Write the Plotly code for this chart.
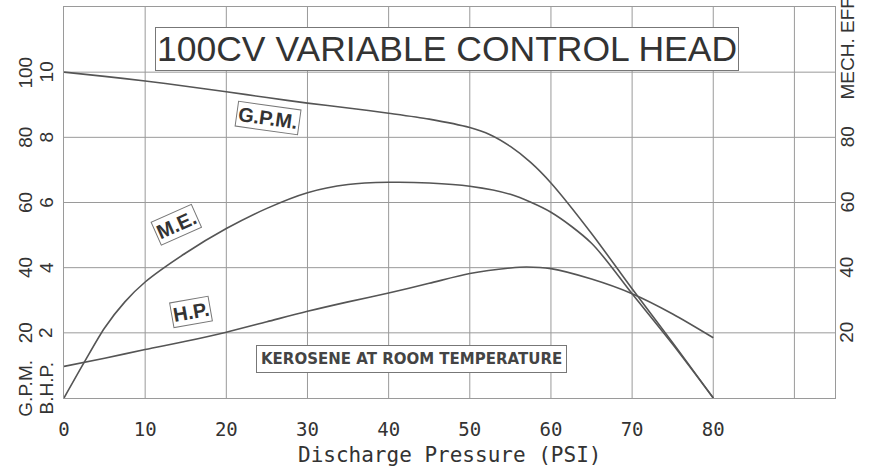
import plotly.graph_objects as go

# ---- data (y in chart units 0-12; G.P.M. & M.E. = value/10, B.H.P. = value) ----
pressure = [0, 5, 10, 15, 20, 25, 30, 35, 40, 45, 50, 52.5, 55, 57.5, 60, 65, 70, 75, 80]
gpm = [100, 98.7, 97.3, 95.7, 94.0, 92.2, 90.5, 89.0, 87.4, 85.6, 83.0, 80.8, 77.2, 72.3, 66.0, 50.5, 33.5, 17, 0]

me_pressure = [0, 2.5, 5, 7.5, 10, 15, 20, 25, 30, 35, 40, 45, 50, 55, 60, 65, 70, 75, 80]
mech_eff = [0, 11, 21.5, 29.5, 35.6, 44.5, 52, 58.2, 63, 65.5, 66.2, 66, 65, 62.5, 57, 47.5, 32, 16.5, 0]

hp_pressure = [0, 5, 10, 15, 20, 25, 30, 35, 40, 45, 50, 55, 57, 60, 65, 70, 75, 80]
bhp = [0.97, 1.22, 1.49, 1.74, 2.02, 2.34, 2.66, 2.95, 3.22, 3.52, 3.82, 3.99, 4.02, 3.97, 3.65, 3.2, 2.58, 1.85]

x_ticks = [0, 10, 20, 30, 40, 50, 60, 70, 80]
gpm_ticks = [20, 40, 60, 80, 100]
bhp_ticks = [2, 4, 6, 8, 10]
eff_ticks = [20, 40, 60, 80]

LINE = "#555555"
GRID = "#9a9a9a"
TXT = "#333333"

fig = go.Figure()
for xs, ys in [(pressure, [v / 10 for v in gpm]),
               (me_pressure, [v / 10 for v in mech_eff]),
               (hp_pressure, bhp)]:
    fig.add_trace(go.Scatter(x=xs, y=ys, mode="lines",
                             line=dict(color=LINE, width=1.6, shape="spline", smoothing=0.8),
                             showlegend=False, hoverinfo="skip"))

LAB = dict(family="Liberation Sans", size=19, color=TXT)
C = dict(showarrow=False, xanchor="center", yanchor="middle", textangle=-90)
ann = []
# left double tick columns
for g, b in zip(gpm_ticks, bhp_ticks):
    ann.append(dict(text=str(g), x=-0.05, xref="paper", y=b, yref="y", font=LAB, **C))
    ann.append(dict(text=str(b), x=-0.023, xref="paper", y=b, yref="y", font=LAB, **C))
ann.append(dict(text="G.P.M.", x=-0.05, xref="paper", y=0.3, yref="y", font=LAB, **C))
ann.append(dict(text="B.H.P.", x=-0.023, xref="paper", y=0.3, yref="y", font=LAB, **C))
# right ticks
for e in eff_ticks:
    ann.append(dict(text=str(e), x=1.0156, xref="paper", y=e / 10, yref="y", font=LAB, **C))
ann.append(dict(text="MECH. EFF.", x=1.0156, xref="paper", y=10.79, yref="y", font=LAB, **C))

BOX = dict(bordercolor="#777", borderwidth=1, bgcolor="white", borderpad=1)
ann.append(dict(text="100CV VARIABLE CONTROL HEAD", x=47.2, y=10.71, showarrow=False,
                font=dict(family="Liberation Sans", size=35.5, color=TXT), **BOX))
ann.append(dict(text="<b>G.P.M.</b>", x=25.1, y=8.58, showarrow=False, textangle=8,
                font=dict(family="Liberation Sans", size=20, color=TXT), **BOX))
ann.append(dict(text="<b>M.E.</b>", x=13.8, y=5.3, showarrow=False, textangle=-24,
                font=dict(family="Liberation Sans", size=20, color=TXT), **BOX))
ann.append(dict(text="<b>H.P.</b>", x=15.6, y=2.64, showarrow=False, textangle=-10,
                font=dict(family="Liberation Sans", size=20, color=TXT), **BOX))
ann.append(dict(text="<b>KEROSENE AT ROOM TEMPERATURE</b>", x=42.8, y=1.2, showarrow=False,
                font=dict(family="DejaVu Sans", size=15, color="#444"),
                bordercolor="#777", borderwidth=1, bgcolor="white", borderpad=4))
# x title
ann.append(dict(text="Discharge Pressure (PSI)", x=0.5, y=0, xref="paper", yref="paper",
                xanchor="center", yanchor="middle", yshift=-57, showarrow=False,
                font=dict(family="DejaVu Sans Mono", size=21, color=TXT)))

fig.update_layout(
    width=873, height=474,
    margin=dict(l=64, r=38, t=7, b=76, autoexpand=False),
    paper_bgcolor="white", plot_bgcolor="white",
    annotations=ann,
    xaxis=dict(range=[0, 95], tickvals=x_ticks, ticktext=[str(v) for v in x_ticks],
               showgrid=False, zeroline=False, showline=True, linecolor=GRID, mirror=True,
               ticks="", ticklabelstandoff=14, automargin=False,
               tickfont=dict(family="DejaVu Sans Mono", size=19, color=TXT)),
    yaxis=dict(range=[0, 12], tickvals=[], showgrid=False, zeroline=False, automargin=False,
               showline=True, linecolor=GRID, mirror=True),
)

for gx in [10, 20, 30, 40, 50, 60, 70, 80, 90]:
    fig.add_shape(type="line", x0=gx, x1=gx, y0=0, y1=12, xref="x", yref="y",
                  line=dict(color=GRID, width=1), layer="below")
for gy in [2, 4, 6, 8, 10]:
    fig.add_shape(type="line", x0=0, x1=95, y0=gy, y1=gy, xref="x", yref="y",
                  line=dict(color=GRID, width=1), layer="below")

fig.write_html("out.html", config={"displayModeBar": False},
               post_script="document.body.style.margin='0';document.body.style.overflow='hidden';")
